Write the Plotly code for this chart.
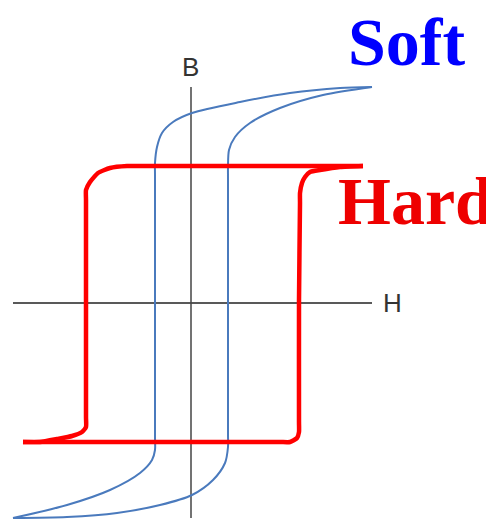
import plotly.graph_objects as go

# Soft loop (units: H, B arbitrary)
soft_down_h = [18.1, 14.9, 9.9, 4.9, 0.1, -1.8, -2.9, -3.4, -3.6, -3.6, -3.6, -3.6, -3.6, -3.9, -5.1, -8.1, -12.4, -17.8]
soft_down_b = [21.6, 21.5, 21.0, 20.1, 19.0, 18.1, 17.0, 15.6, 14.0, 12.8, 0.3, -13.4, -14.7, -15.7, -17.0, -18.7, -20.2, -21.5]
soft_up_h = [-17.8, -12.4, -7.4, -3.1, 0.1, 2.2, 3.4, 3.7, 3.7, 3.7, 3.7, 3.7, 3.8, 4.4, 5.9, 8.9, 13.2, 18.1]
soft_up_b = [-21.5, -21.4, -21.0, -20.2, -19.2, -17.7, -16.0, -14.4, -13.2, 0.3, 12.4, 13.6, 15.3, 16.6, 18.0, 19.5, 20.8, 21.6]

# Hard loop
hard_down_h = [17.2, 5.9, -5.4, -6.4, -8.1, -9.3, -10.1, -10.5, -10.5, -10.5, -10.5, -10.5, -10.9, -11.9, -13.4, -15.1, -16.8]
hard_down_b = [13.7, 13.7, 13.7, 13.7, 13.5, 13.0, 12.1, 11.3, 10.3, 0.3, -11.4, -12.4, -12.9, -13.3, -13.6, -13.9, -13.9]
hard_up_h = [-16.8, -4.1, 8.9, 9.9, 10.6, 10.8, 10.8, 10.8, 10.9, 10.9, 11.1, 11.4, 11.9, 12.9, 14.9, 17.2]
hard_up_b = [-13.9, -13.9, -13.9, -13.9, -13.5, -12.9, -11.9, 0.3, 10.0, 11.0, 12.0, 12.6, 13.1, 13.3, 13.6, 13.7]

# Axes
h_axis_h = [-17.8, 18.1]
h_axis_b = [0.0, 0.0]
b_axis_h = [0.0, 0.0]
b_axis_b = [21.6, -21.5]

soft_color = "#4a7abd"
hard_color = "#ff0000"
axis_color = "#222222"

fig = go.Figure()
fig.add_trace(go.Scatter(x=h_axis_h, y=h_axis_b, mode="lines",
                         line=dict(color=axis_color, width=1.5), hoverinfo="skip"))
fig.add_trace(go.Scatter(x=b_axis_h, y=b_axis_b, mode="lines",
                         line=dict(color="#444444", width=1.5), hoverinfo="skip"))
for hx, by in [(soft_down_h, soft_down_b), (soft_up_h, soft_up_b)]:
    fig.add_trace(go.Scatter(x=hx, y=by, mode="lines",
                             line=dict(color=soft_color, width=2, shape="spline", smoothing=0.8)))
for hx, by in [(hard_down_h, hard_down_b), (hard_up_h, hard_up_b)]:
    fig.add_trace(go.Scatter(x=hx, y=by, mode="lines",
                             line=dict(color=hard_color, width=4.5, shape="spline", smoothing=0.5)))

fig.add_annotation(x=-0.1, y=23.6, text="B", showarrow=False,
                   font=dict(family="Liberation Sans, Arial", size=26, color="#333333"))
fig.add_annotation(x=19.0, y=0.0, text="H", showarrow=False, xanchor="left",
                   font=dict(family="Liberation Sans, Arial", size=26, color="#333333"))
fig.add_annotation(x=21.5, y=26.1, text="<b>Soft</b>", showarrow=False,
                   font=dict(family="Liberation Serif, Times New Roman", size=68, color="#0000ff"))
fig.add_annotation(x=22.4, y=10.2, text="<b>Hard</b>", showarrow=False,
                   font=dict(family="Liberation Serif, Times New Roman", size=68, color="#ee0000"))

# The page body adds an 8px offset, so the figure is sized to the remaining area.
fig.update_layout(
    width=486, height=514,
    margin=dict(l=0, r=0, t=0, b=0),
    paper_bgcolor="white", plot_bgcolor="white",
    showlegend=False,
    xaxis=dict(range=[-18.3, 30.3], visible=False, fixedrange=True),
    yaxis=dict(range=[-21.9, 29.5], visible=False, fixedrange=True),
)
fig.write_html("out.html")
